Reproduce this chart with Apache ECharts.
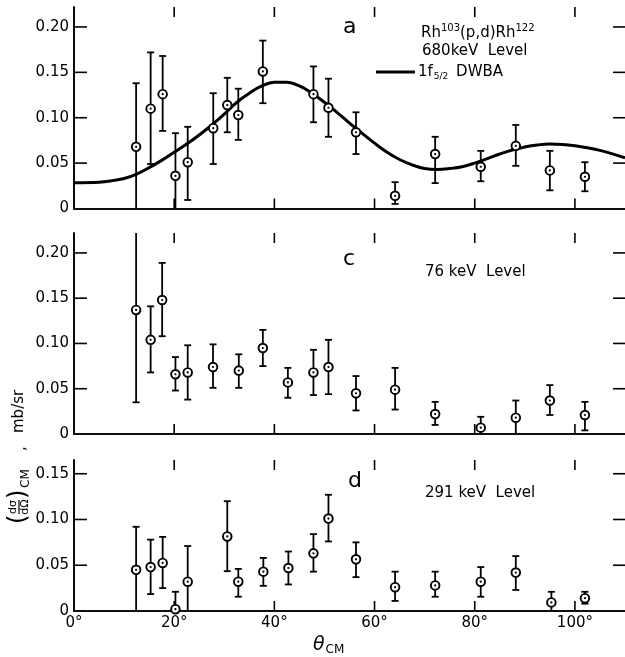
<!DOCTYPE html>
<html><head><meta charset="utf-8">
<script src="https://cdn.jsdelivr.net/npm/echarts@6/dist/echarts.min.js"></script>
<style>html,body{margin:0;padding:0;background:#fff}#c{width:625px;height:657px}</style>
</head><body><div id="c"></div>
<script>
// ---- data ----
const xTicks = [20, 40, 60, 80, 100];
const yTicksAC = [0.05, 0.10, 0.15, 0.20];
const yTicksD = [0.05, 0.10, 0.15];
// panel a : 680 keV level
const anglesA = [12.4, 15.3, 17.7, 20.25, 22.7, 27.8, 30.6, 32.8, 37.7, 47.8, 50.8, 56.3, 64.1, 72.1, 81.2, 88.2, 95.0, 102.0];
const valuesA = [0.068, 0.110, 0.126, 0.036, 0.051, 0.0885, 0.114, 0.103, 0.151, 0.126, 0.111, 0.084, 0.014, 0.060, 0.046, 0.069, 0.042, 0.035];
const lowA    = [0, 0.049, 0.0855, 0, 0.0094, 0.049, 0.084, 0.0756, 0.116, 0.095, 0.079, 0.060, 0.005, 0.028, 0.030, 0.047, 0.020, 0.019];
const highA   = [0.138, 0.172, 0.168, 0.083, 0.090, 0.127, 0.144, 0.132, 0.185, 0.1565, 0.143, 0.106, 0.029, 0.079, 0.0635, 0.092, 0.0635, 0.051];
// DWBA 1f5/2 curve
const dwbaAngles = [0, 5, 8, 10, 12.5, 15, 17.5, 20, 22.5, 25, 27.5, 30, 32.5, 35, 37.5, 40, 42.5, 45, 47.5, 50, 52.5, 55, 57.5, 60, 62.5, 65, 67.5, 70, 72.5, 75, 77.5, 80, 82.5, 85, 87.5, 90, 92.5, 95, 97.5, 100, 102.5, 105, 107.5, 110];
const dwbaValues = [0.0285, 0.029, 0.031, 0.033, 0.038, 0.045, 0.053, 0.062, 0.071, 0.081, 0.092, 0.104, 0.117, 0.127, 0.135, 0.139, 0.139, 0.135, 0.127, 0.117, 0.106, 0.094, 0.083, 0.072, 0.062, 0.054, 0.048, 0.044, 0.043, 0.044, 0.046, 0.050, 0.055, 0.060, 0.0645, 0.0678, 0.0700, 0.0710, 0.0706, 0.0692, 0.0670, 0.0640, 0.0602, 0.0558];
// panel c : 76 keV level
const anglesC = [12.4, 15.3, 17.6, 20.25, 22.7, 27.75, 32.9, 37.7, 42.7, 47.8, 50.8, 56.3, 64.1, 72.1, 81.2, 88.2, 95.0, 102.0];
const valuesC = [0.137, 0.104, 0.148, 0.066, 0.068, 0.074, 0.070, 0.095, 0.057, 0.068, 0.074, 0.045, 0.049, 0.022, 0.007, 0.018, 0.037, 0.021];
const lowC    = [0.035, 0.068, 0.108, 0.048, 0.038, 0.051, 0.051, 0.075, 0.040, 0.043, 0.044, 0.026, 0.027, 0.010, 0, 0, 0.021, 0.004];
const highC   = [0.25, 0.141, 0.189, 0.085, 0.098, 0.099, 0.088, 0.115, 0.073, 0.093, 0.104, 0.064, 0.073, 0.0355, 0.019, 0.037, 0.054, 0.0355];
// panel d : 291 keV level
const anglesD = [12.4, 15.3, 17.7, 20.25, 22.7, 30.6, 32.8, 37.8, 42.8, 47.8, 50.8, 56.3, 64.1, 72.1, 81.2, 88.2, 95.3, 102.0];
const valuesD = [0.045, 0.048, 0.0525, 0.002, 0.032, 0.0815, 0.032, 0.043, 0.047, 0.063, 0.101, 0.0565, 0.026, 0.028, 0.032, 0.042, 0.0094, 0.014];
const lowD    = [0, 0.0185, 0.025, 0, 0, 0.0435, 0.0156, 0.0275, 0.029, 0.043, 0.076, 0.037, 0.011, 0.0156, 0.0156, 0.023, 0, 0.008];
const highD   = [0.092, 0.078, 0.081, 0.021, 0.071, 0.120, 0.046, 0.058, 0.065, 0.084, 0.127, 0.075, 0.043, 0.043, 0.048, 0.060, 0.021, 0.021];

// ---- build ----
const FONT = 'DejaVu Sans';
const pts = (ang, val, lo, hi) => ang.map((a, i) => [a, val[i], lo[i], hi[i]]);
const grids = [
  {left: 74, width: 552, top: 7, height: 201.5, ymax: 0.222, yt: yTicksAC},
  {left: 74, width: 552, top: 233, height: 201, ymax: 0.222, yt: yTicksAC},
  {left: 74, width: 552, top: 460, height: 151, ymax: 0.165, yt: yTicksD}
];
const axisLineStyle = {show: true, lineStyle: {color: '#000', width: 1.6}};
const xAxes = [], yAxes = [];
grids.forEach((g, i) => {
  xAxes.push({gridIndex: i, type: 'value', min: 0, max: 110, interval: 20, position: 'bottom',
    axisLine: axisLineStyle, splitLine: {show: false}, axisTick: {show: false},
    axisLabel: {show: i === 2, formatter: '{value}°', color: '#000', fontFamily: FONT, fontSize: 15, margin: 5, showMaxLabel: false}});
  xAxes.push({gridIndex: i, type: 'value', min: 0, max: 110, interval: 20, position: 'top',
    axisLine: axisLineStyle, splitLine: {show: false}, axisTick: {show: false}, axisLabel: {show: false}});
  yAxes.push({gridIndex: i, type: 'value', min: 0, max: g.ymax, interval: 0.05, position: 'left',
    axisLine: axisLineStyle, splitLine: {show: false}, axisTick: {show: false},
    axisLabel: {color: '#000', fontFamily: FONT, fontSize: 15, margin: 5, showMaxLabel: false,
      formatter: v => v === 0 ? '0' : v.toFixed(2)}});
  yAxes.push({gridIndex: i, type: 'value', min: 0, max: g.ymax, interval: 0.05, position: 'right',
    axisLine: axisLineStyle, splitLine: {show: false}, axisTick: {show: false}, axisLabel: {show: false}});
});

const TICK = {stroke: '#000', lineWidth: 1.6};
function renderXTick(params, api) {
  const cs = params.coordSys;
  const x = api.coord([api.value(0), 0])[0];
  const b = cs.y + cs.height;
  return {type: 'group', children: [
    {type: 'line', shape: {x1: x, y1: b, x2: x, y2: b - 10}, style: TICK},
    {type: 'line', shape: {x1: x, y1: cs.y, x2: x, y2: cs.y + 10}, style: TICK}
  ]};
}
function renderYTick(params, api) {
  const cs = params.coordSys;
  const y = api.coord([0, api.value(0)])[1];
  const r = cs.x + cs.width;
  return {type: 'group', children: [
    {type: 'line', shape: {x1: cs.x, y1: y, x2: cs.x + 13, y2: y}, style: TICK},
    {type: 'line', shape: {x1: r, y1: y, x2: r - 12, y2: y}, style: TICK}
  ]};
}

function renderErr(params, api) {
  const x = api.value(0), v = api.value(1), lo = api.value(2), hi = api.value(3);
  const cs = params.coordSys;
  const p = api.coord([x, v]);
  const pl = api.coord([x, lo]);
  const ph = api.coord([x, hi]);
  const top = cs.y, bot = cs.y + cs.height;
  const yh = Math.max(ph[1], top), yl = Math.min(pl[1], bot);
  const st = {stroke: '#000', lineWidth: 1.8};
  const children = [{type: 'line', shape: {x1: p[0], y1: yh, x2: p[0], y2: yl}, style: st}];
  if (ph[1] >= top) children.push({type: 'line', shape: {x1: p[0] - 3.5, y1: yh, x2: p[0] + 3.5, y2: yh}, style: st});
  if (pl[1] < bot - 1) children.push({type: 'line', shape: {x1: p[0] - 3.5, y1: yl, x2: p[0] + 3.5, y2: yl}, style: st});
  children.push({type: 'circle', shape: {cx: p[0], cy: p[1], r: 4.3}, style: {fill: '#fff', stroke: '#000', lineWidth: 1.9}});
  children.push({type: 'circle', shape: {cx: p[0], cy: p[1], r: 1.1}, style: {fill: '#000'}});
  return {type: 'group', children};
}

const series = [
  {type: 'line', xAxisIndex: 0, yAxisIndex: 0, data: dwbaAngles.map((a, i) => [a, dwbaValues[i]]),
    smooth: 0.4, showSymbol: false, lineStyle: {color: '#000', width: 3}, z: 1},
  {type: 'custom', xAxisIndex: 0, yAxisIndex: 0, data: pts(anglesA, valuesA, lowA, highA), renderItem: renderErr, z: 3},
  {type: 'custom', xAxisIndex: 2, yAxisIndex: 2, data: pts(anglesC, valuesC, lowC, highC), renderItem: renderErr, z: 3},
  {type: 'custom', xAxisIndex: 4, yAxisIndex: 4, data: pts(anglesD, valuesD, lowD, highD), renderItem: renderErr, z: 3}
];
grids.forEach((g, i) => {
  series.push({type: 'custom', xAxisIndex: 2 * i, yAxisIndex: 2 * i, data: xTicks.map(t => [t]), renderItem: renderXTick, z: 2, silent: true});
  series.push({type: 'custom', xAxisIndex: 2 * i, yAxisIndex: 2 * i, data: g.yt.map(t => [t]), renderItem: renderYTick, z: 2, silent: true,
    encode: {y: 0}});
});

const txt = (x, y, text, size) => ({type: 'text', x, y,
  style: {text, fill: '#000', font: size + 'px "' + FONT + '"', verticalAlign: 'middle', align: 'left'}});

const graphic = [
  txt(343, 27, 'a', 22),
  txt(343, 259, 'c', 22),
  txt(348, 481, 'd', 22),
  {type: 'text', x: 421, y: 33, style: {
    text: '{m|Rh}{s|103}{m|(p,d)Rh}{s|122}', verticalAlign: 'middle',
    rich: {m: {font: '15px "' + FONT + '"', fill: '#000'}, s: {font: '10px "' + FONT + '"', fill: '#000', padding: [0, 0, 10, 0]}}}},
  txt(422, 51, '680keV  Level', 15),
  {type: 'line', shape: {x1: 376, y1: 72, x2: 415, y2: 72}, style: {stroke: '#000', lineWidth: 3}},
  {type: 'text', x: 418, y: 72, style: {
    text: '{m|1f}{s|5/2}{m| DWBA}', verticalAlign: 'middle',
    rich: {m: {font: '15px "' + FONT + '"', fill: '#000'}, s: {font: '9px "' + FONT + '"', fill: '#000', padding: [10, 3, 0, 1]}}}},
  txt(425, 272, '76 keV  Level', 15),
  txt(425, 493, '291 keV  Level', 15),
  // x axis name
  {type: 'text', x: 313, y: 645, style: {
    text: '{t|θ}{s|CM}', verticalAlign: 'middle',
    rich: {t: {font: 'italic 19px "' + FONT + '"', fill: '#000'}, s: {font: '12px "' + FONT + '"', fill: '#000', padding: [10, 0, 0, 1]}}}},
  // y axis name (rotated)
  {type: 'group', x: 19, y: 455, rotation: Math.PI / 2, children: [
    {type: 'text', x: -69, y: 0, style: {text: '(', font: '24px "' + FONT + '"', fill: '#000', verticalAlign: 'middle', align: 'left'}},
    {type: 'text', x: -52, y: -6, style: {text: 'dσ', font: '11px "' + FONT + '"', fill: '#000', verticalAlign: 'middle', align: 'center'}},
    {type: 'line', shape: {x1: -59, y1: 0, x2: -45, y2: 0}, style: {stroke: '#000', lineWidth: 1.2}},
    {type: 'text', x: -52, y: 6, style: {text: 'dΩ', font: '11px "' + FONT + '"', fill: '#000', verticalAlign: 'middle', align: 'center'}},
    {type: 'text', x: -44, y: 0, style: {text: ')', font: '24px "' + FONT + '"', fill: '#000', verticalAlign: 'middle', align: 'left'}},
    {type: 'text', x: -33, y: 7, style: {text: 'CM', font: '12px "' + FONT + '"', fill: '#000', verticalAlign: 'middle', align: 'left'}},
    {type: 'text', x: 4, y: 2, style: {text: ',', font: '15px "' + FONT + '"', fill: '#000', verticalAlign: 'middle', align: 'left'}},
    {type: 'text', x: 22, y: 0, style: {text: 'mb/sr', font: '15px "' + FONT + '"', fill: '#000', verticalAlign: 'middle', align: 'left'}}
  ]}
];

const chart = echarts.init(document.getElementById('c'), null, {renderer: 'canvas'});
chart.setOption({
  backgroundColor: '#fff',
  animation: false,
  grid: grids.map(g => ({left: g.left, width: g.width, top: g.top, height: g.height})),
  xAxis: xAxes, yAxis: yAxes, series, graphic
});
</script></body></html>
